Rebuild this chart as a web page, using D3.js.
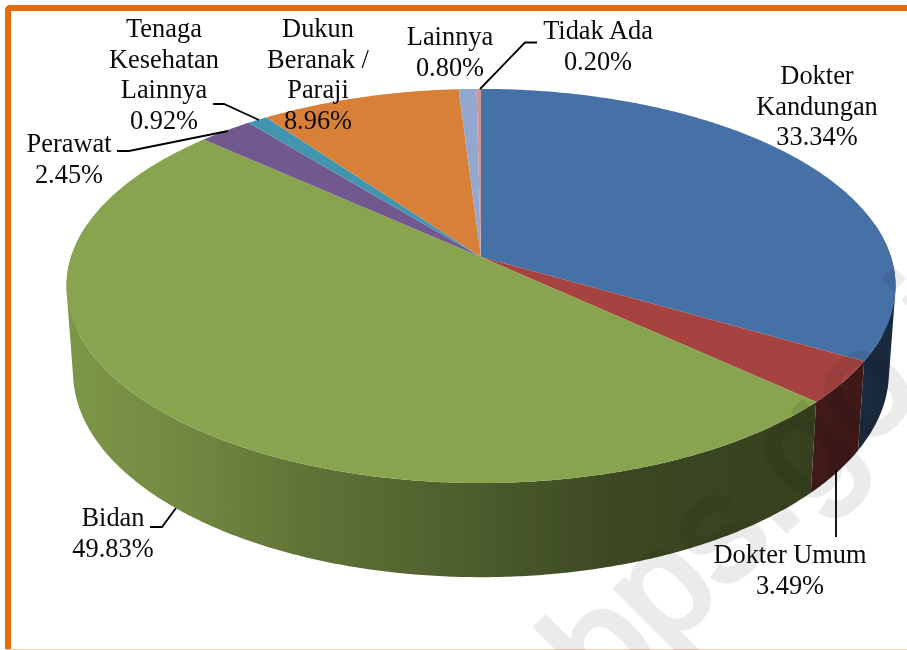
<!DOCTYPE html>
<html>
<head>
<meta charset="utf-8">
<script src="https://cdn.jsdelivr.net/npm/d3@7/dist/d3.min.js"></script>
<style>
html,body{margin:0;padding:0;background:#fff;overflow:hidden}
svg{display:block}
text{font-family:"Liberation Serif","Times New Roman",serif;font-size:26.4px;fill:#0a0a0a;text-anchor:middle}
</style>
</head>
<body>
<svg id="c" width="907" height="650"></svg>
<script>
// ---- data ----
const categories = ["Dokter Kandungan","Dokter Umum","Bidan","Perawat","Tenaga Kesehatan Lainnya","Dukun Beranak / Paraji","Lainnya","Tidak Ada"];
const values = [33.34,3.49,49.83,2.45,0.92,8.96,0.80,0.20];
const colors = ["#4671a6","#a64341","#88a44e","#71588f","#4195ae","#d98038","#93a8cf","#d09492"];
const labelLines = [["Dokter","Kandungan","33.34%"],["Dokter Umum","3.49%"],["Bidan","49.83%"],["Perawat","2.45%"],["Tenaga","Kesehatan","Lainnya","0.92%"],["Dukun","Beranak /","Paraji","8.96%"],["Lainnya","0.80%"],["Tidak Ada","0.20%"]];

// ---- layout ----
const W = 907, H = 650;
const persp = 0.147;
const topDisc = {cx:481, cy:257, a:410, b:192.8};
const lowDisc = {cx:481, cy:342, a:403.5, b:200.6};
const labelPos = [[817,84],[790,563],[113,526],[69,152],[164,37],[318,37],[450,45],[598,39]];
const lineGap = 30.7;
const leaders = [
  [[537,42.5],[525,42.5],[480,89]],
  [[213,104],[224,104],[259,120]],
  [[117,151],[129,151],[228,131]],
  [[150,527],[162,527],[176,508]],
  [[836,470],[836,537]]
];
// wall shade against horizontal position
const shadeX = [70,200,300,480,620,800,900];
const shadeF = [0.92,0.82,0.71,0.56,0.44,0.40,0.36];
// visible front part of the wall
const wallFrom = 80*Math.PI/180, wallTo = 280*Math.PI/180;

const project = (d,t) => {
  const u = Math.sin(t), v = -Math.cos(t), w = 1 - persp*v;
  return [d.cx + d.a*u/w, d.cy + d.b*v/w];
};

const svg = d3.select("#c");
const pie = d3.pie().sort(null).value(d=>d)(values);
const step = Math.PI/360;
const line = d3.line();
const arcAngles = (a,b) => d3.range(a,b,step).concat([b]);

// frame
svg.append("rect").attr("x",8).attr("y",8).attr("rx",2).attr("width",W+20).attr("height",H+20)
  .attr("fill","none").attr("stroke","#e46c0a").attr("stroke-width",6);
svg.append("rect").attr("x",11).attr("y",11).attr("width",W).attr("height",638).attr("fill","#fff");
svg.append("line").attr("x1",5).attr("x2",W).attr("y1",649.5).attr("y2",649.5).attr("stroke","#f6cba6").attr("stroke-width",1);

// wall gradients
const defs = svg.append("defs");
colors.forEach((col,i)=>{
  const g = defs.append("linearGradient").attr("id","w"+i).attr("gradientUnits","userSpaceOnUse")
    .attr("x1",shadeX[0]).attr("x2",shadeX[shadeX.length-1]).attr("y1",0).attr("y2",0);
  const c = d3.rgb(col), span = shadeX[shadeX.length-1]-shadeX[0];
  shadeX.forEach((x,j)=>{
    g.append("stop").attr("offset",(x-shadeX[0])/span)
      .attr("stop-color",d3.rgb(c.r*shadeF[j],c.g*shadeF[j],c.b*shadeF[j]).formatHex());
  });
});

// side walls: quads of one winding, so that folds at the silhouette stay filled
const wallPath = s => {
  const ts = arcAngles(Math.max(s.startAngle,wallFrom),Math.min(s.endAngle,wallTo));
  return d3.pairs(ts).map(([a,b])=>{
    const q = [project(topDisc,a),project(topDisc,b),project(lowDisc,b),project(lowDisc,a)];
    return line(d3.polygonArea(q)<0 ? q.reverse() : q)+"Z";
  }).join("");
};
svg.append("g").selectAll("path").data(pie.filter(s=>s.endAngle>wallFrom && s.startAngle<wallTo)).join("path")
  .attr("d",wallPath)
  .attr("fill",s=>`url(#w${s.index})`);

// top face
svg.append("g").selectAll("path").data(pie).join("path")
  .attr("d",s=>line([[topDisc.cx,topDisc.cy],...arcAngles(s.startAngle,s.endAngle).map(t=>project(topDisc,t))])+"Z")
  .attr("fill",(s,i)=>colors[i]);

// watermark
svg.append("text").attr("transform","translate(606,711) rotate(-45)")
  .style("font-family","'Liberation Sans',Arial,sans-serif").style("font-size","150px")
  .style("text-anchor","start").style("fill","#ebebeb").style("stroke","#ebebeb").style("stroke-width","5px")
  .style("mix-blend-mode","multiply")
  .text("bps.go.id");

// leaders
svg.append("g").selectAll("path").data(leaders).join("path")
  .attr("d",d=>line(d)).attr("fill","none").attr("stroke","#000").attr("stroke-width",1.8);

// labels
const lab = svg.append("g").selectAll("text").data(labelLines).join("text")
  .attr("x",(d,i)=>labelPos[i][0]).attr("y",(d,i)=>labelPos[i][1]);
lab.selectAll("tspan").data(d=>d).join("tspan")
  .attr("x",function(){return d3.select(this.parentNode).attr("x");})
  .attr("dy",(d,i)=>i?lineGap:0).text(d=>d);
</script>
</body>
</html>
